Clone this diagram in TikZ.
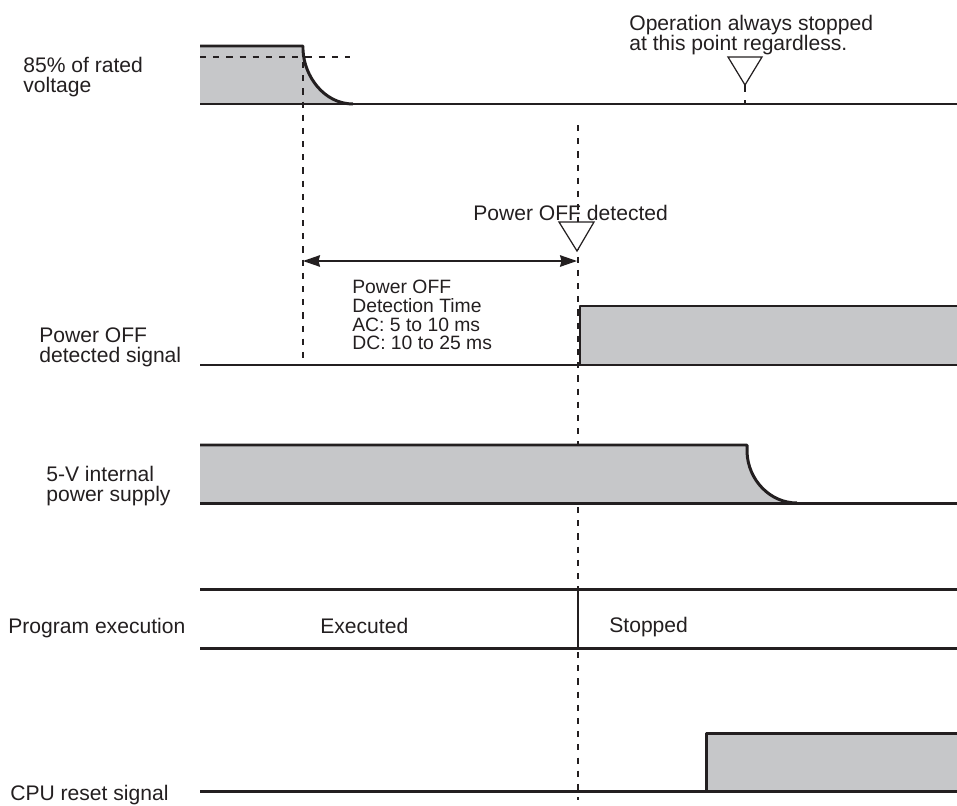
\documentclass[tikz,border=0pt]{standalone}
\usepackage{fontspec}
\setmainfont{Liberation Sans}
\usetikzlibrary{arrows.meta}
\definecolor{Ink}{HTML}{231F20}
\definecolor{Shade}{HTML}{C6C7C9}

\begin{document}
\begin{tikzpicture}[
  x=0.02cm,y=-0.02cm,
  lbl/.style={anchor=north west,inner sep=0pt,align=left,text=Ink,font=\fontsize{12}{11.4}\selectfont},
  note/.style={anchor=north west,inner sep=0pt,align=left,text=Ink,font=\fontsize{11}{10.6}\selectfont},
  wave/.style={draw=Ink,line width=1.7pt,line join=round},
  area/.style={fill=Shade},
  guide/.style={draw=Ink,line width=0.7pt,dash pattern=on 3.5pt off 4pt},
  marker/.style={draw=Ink,line width=0.7pt,fill=white},
  dim/.style={{Stealth[length=3.4mm,width=2.3mm,inset=0.3mm]}-{Stealth[length=3.4mm,width=2.3mm,inset=0.3mm]},draw=Ink,line width=1pt}
]
\useasboundingbox (0,0) rectangle (957,805);

\node[lbl] (volt) at (23,57) {85\% of rated\\voltage};
\node[lbl] (detsig) at (39,327) {Power OFF\\detected signal};
\node[lbl] (psu) at (46,466) {5-V internal\\power supply};
\node[lbl] (prog) at (8,618) {Program execution};
\node[lbl] (reset) at (10,785) {CPU reset signal};
\node[lbl] (exec) at (320,618) {Executed};
\node[lbl] (stop) at (609,617) {Stopped};
\node[lbl] (opnote) at (629,15) {Operation always stopped\\at this point regardless.};
\node[lbl] (detnote) at (473,205) {Power OFF detected};
\node[note] (dettime) at (352,280) {Power OFF\\Detection Time\\AC: 5 to 10 ms\\DC: 10 to 25 ms};

% rated voltage
\fill[area] (200,46) -- (303,46) -- (303,50) .. controls (304,76) and (324,104) .. (353,104) -- (200,104) -- cycle;
\draw[guide] (200,57) -- (350,57);
\draw[guide] (303,62) -- (303,365);
\draw[wave] (200,46) -- (303,46) -- (303,50) .. controls (304,76) and (324,104) .. (353,104);
\draw[wave] (200,104) -- (957,104);
\draw[marker] (728,57) -- (762,57) -- (745,85) -- cycle;
\draw[marker] (745,85) -- (745,92);
\draw[marker] (745,100) -- (745,104);

% detection
\draw[guide] (578,125) -- (578,800);
\draw[marker] (559,222) -- (594,222) -- (577,251) -- cycle;
\coordinate (tfall) at (303,261);
\coordinate (tdet) at (577,261);
\draw[dim] (tfall) -- (tdet);
\fill[area] (580,306) rectangle (957,365);
\draw[wave] (200,365) -- (957,365);
\draw[wave] (580,365) -- (580,306) -- (957,306);

% internal supply
\fill[area] (200,445) -- (747,445) -- (747,452) .. controls (748,480) and (770,503) .. (797,503) -- (200,503) -- cycle;
\draw[wave] (200,445) -- (747,445) -- (747,452) .. controls (748,480) and (770,503) .. (797,503);
\draw[wave] (200,503) -- (957,503);

% program
\draw[wave] (200,589) -- (957,589);
\draw[wave] (200,648) -- (957,648);
\draw[wave] (578,589) -- (578,648);

% reset
\fill[area] (706,733) rectangle (957,791);
\draw[wave] (200,791) -- (957,791);
\draw[wave] (706,791) -- (706,733) -- (957,733);
\end{tikzpicture}
\end{document}
